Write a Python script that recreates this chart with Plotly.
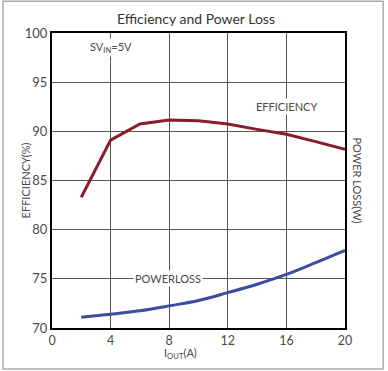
import plotly.graph_objects as go

# Data
iout = [2, 4, 6, 8, 10, 12, 14, 16, 18, 20]
efficiency = [83.3, 89.1, 90.75, 91.15, 91.08, 90.74, 90.2, 89.7, 88.95, 88.17]
power_loss = [0.22, 0.28, 0.35, 0.45, 0.56, 0.72, 0.89, 1.09, 1.33, 1.58]

x_ticks = [0, 4, 8, 12, 16, 20]
y_ticks = [70, 75, 80, 85, 90, 95, 100]

FONT = "Lato, Open Sans, sans-serif"
TXT = "#4a4a4a"

fig = go.Figure()
fig.add_trace(go.Scatter(x=iout, y=efficiency, mode="lines",
                         line=dict(color="#8a1c2c", width=3), yaxis="y"))
fig.add_trace(go.Scatter(x=iout, y=power_loss, mode="lines",
                         line=dict(color="#3a4d9e", width=3, shape="spline"), yaxis="y2"))

fig.update_layout(
    width=388, height=371,
    margin=dict(l=52, r=43, t=33, b=43),
    paper_bgcolor="white", plot_bgcolor="white",
    showlegend=False,
    font=dict(family=FONT, size=12, color=TXT),
    title=dict(text="Efficiency and Power Loss", x=0.505, xanchor="center",
               y=0.948, yanchor="middle", font=dict(size=14, color="#333")),
    xaxis=dict(range=[0, 20], tickvals=x_ticks, ticks="", showgrid=True,
               gridcolor="#555", gridwidth=1, zeroline=False,
               showline=True, linecolor="black", linewidth=2, mirror=True,
               tickfont=dict(size=12.5, color=TXT)),
    yaxis=dict(range=[70, 100], tickvals=y_ticks, ticks="", showgrid=True,
               gridcolor="#555", gridwidth=1, zeroline=False,
               showline=True, linecolor="black", linewidth=2, mirror=True,
               tickfont=dict(size=13, color=TXT)),
    yaxis2=dict(range=[0, 6], overlaying="y", side="right", showticklabels=False,
                showgrid=False, zeroline=False, ticks=""),
)

annotations = [
    dict(x=4, y=98.5, xref="x", yref="y", text="SV<sub>IN</sub>=5V", showarrow=False,
         bgcolor="white", font=dict(size=11, color=TXT)),
    dict(x=16, y=92.5, xref="x", yref="y", text="EFFICIENCY", showarrow=False,
         bgcolor="white", font=dict(size=11, color=TXT)),
    dict(x=7.9, y=75, xref="x", yref="y", text="POWERLOSS", showarrow=False,
         bgcolor="white", font=dict(size=11, color=TXT)),
    dict(x=-0.118, y=0.5, xref="paper", yref="paper", text="EFFICIENCY(%)",
         textangle=-90, showarrow=False, font=dict(size=11, color=TXT)),
    dict(x=1.07, y=0.5, xref="paper", yref="paper", text="POWER LOSS(W)",
         textangle=90, showarrow=False, font=dict(size=11, color=TXT)),
    dict(x=0.44, y=-0.088, xref="paper", yref="paper", text="I<sub>OUT</sub>(A)",
         yanchor="middle", showarrow=False, font=dict(size=11, color=TXT)),
]
fig.update_layout(annotations=annotations)

fig.add_shape(type="rect", xref="paper", yref="paper",
              x0=-0.167, x1=1.13, y0=-0.139, y1=1.108,
              line=dict(color="#aaaaaa", width=1.5), layer="above")

fig.write_html("out.html", config={"displayModeBar": False},
               post_script="document.body.style.margin='0';")
